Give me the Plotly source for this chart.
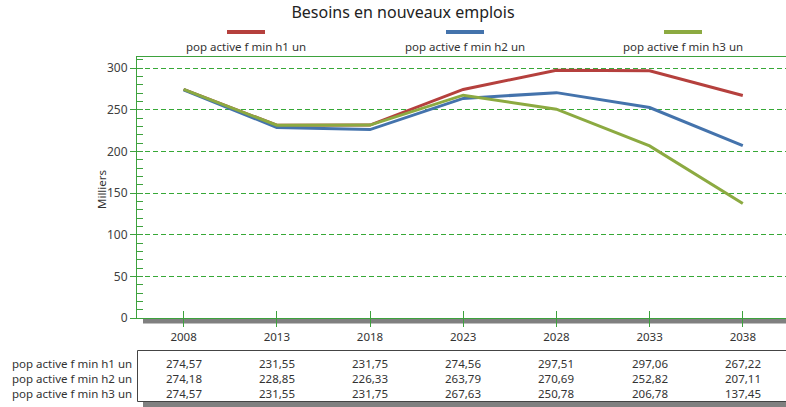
import plotly.graph_objects as go

years = ["2008", "2013", "2018", "2023", "2028", "2033", "2038"]
series_names = ["pop active f min h1 un", "pop active f min h2 un", "pop active f min h3 un"]
h1 = [274.57, 231.55, 231.75, 274.56, 297.51, 297.06, 267.22]
h2 = [274.18, 228.85, 226.33, 263.79, 270.69, 252.82, 207.11]
h3 = [274.57, 231.55, 231.75, 267.63, 250.78, 206.78, 137.45]
colors = ["#B5403D", "#4473AC", "#8CAA41"]
title = "Besoins en nouveaux emplois"
y_title = "Milliers"

W, H = 786, 407
L, T, B = 137, 57, 89
PW = W - L
PH = H - T - B
FONT = "Noto Sans"
GREEN = "#3DA23D"
TXT = "#333333"

def px_y(py):
    return (H - B - py) / PH

def px_x(px):
    return (px - L) / PW

xs = list(range(len(years)))
fig = go.Figure()
for name, vals, c in zip(series_names, [h1, h2, h3], colors):
    fig.add_trace(go.Scatter(x=xs, y=vals, name=name, mode="lines",
                             line=dict(color=c, width=3), showlegend=False))

band = 93.2
xmax = -0.5 + PW / band

fig.update_layout(
    width=W, height=H,
    margin=dict(l=L, r=0, t=T, b=B),
    paper_bgcolor="white", plot_bgcolor="white",
    font=dict(family=FONT, size=12, color=TXT),
    title=dict(text=title, x=403 / W, xref="container", xanchor="center",
               y=1 - 12 / H, yref="container", yanchor="middle",
               font=dict(family=FONT, size=16, color="#222222")),
    xaxis=dict(range=[-0.5, xmax], tickmode="array", tickvals=xs, ticktext=years,
               showline=True, linecolor=GREEN, linewidth=1, mirror=True,
               ticks="outside", ticklen=8, tickcolor=GREEN, tickwidth=1,
               showgrid=False, zeroline=False,
               tickfont=dict(size=11.5, color=TXT)),
    xaxis2=dict(range=[-0.5, xmax], overlaying="x", anchor="y", side="bottom",
                tickmode="array", tickvals=xs, ticks="inside", ticklen=7,
                tickcolor=GREEN, showticklabels=False, showline=False,
                showgrid=False, zeroline=False),
    yaxis=dict(range=[0, 313.5], tickmode="array", tickvals=[0, 50, 100, 150, 200, 250, 300],
               showline=True, linecolor=GREEN, linewidth=1,
               ticks="outside", ticklen=6, tickcolor=GREEN,
               showgrid=True, gridcolor="#37A837", griddash="5px,3px", gridwidth=1,
               zeroline=False, tickfont=dict(size=12, color="#404040"),
               minor=dict(dtick=10, tick0=0, ticks="inside", ticklen=6,
                          tickcolor=GREEN, showgrid=False)),
)

# invisible trace so the secondary x axis is drawn
fig.add_trace(go.Scatter(x=[0], y=[0], xaxis="x2", mode="markers",
                         marker=dict(opacity=0), showlegend=False, hoverinfo="skip"))

shapes = []
# shadow under x axis
shapes.append(dict(type="rect", xref="paper", yref="paper",
                   x0=px_x(143), x1=1.02, y0=px_y(323.5), y1=px_y(319),
                   fillcolor="#808080", line=dict(width=0), layer="below"))
# table box
shapes.append(dict(type="rect", xref="paper", yref="paper",
                   x0=px_x(137.5), x1=1.02, y0=px_y(401.5), y1=px_y(350.5),
                   fillcolor="rgba(0,0,0,0)", line=dict(color="#444444", width=1)))
# table shadow
shapes.append(dict(type="rect", xref="paper", yref="paper",
                   x0=px_x(143), x1=1.02, y0=px_y(408), y1=px_y(402),
                   fillcolor="#808080", line=dict(width=0)))

annotations = []
# legend
leg_centers = [246, 465, 683]
for name, c, cx in zip(series_names, colors, leg_centers):
    shapes.append(dict(type="line", xref="paper", yref="paper",
                       x0=px_x(cx - 19), x1=px_x(cx + 19), y0=px_y(32), y1=px_y(32),
                       line=dict(color=c, width=4)))
    annotations.append(dict(text=name, xref="paper", yref="paper", x=px_x(cx), y=px_y(47),
                            xanchor="center", yanchor="middle", showarrow=False,
                            font=dict(size=11.5, color=TXT)))

# y-axis title
annotations.append(dict(text=y_title, xref="paper", yref="paper", x=px_x(101), y=px_y(190),
                        textangle=-90, xanchor="center", yanchor="middle", showarrow=False,
                        font=dict(size=11.5, color=TXT)))

# data table
row_y = [363, 378, 393]
for name, vals, ry in zip(series_names, [h1, h2, h3], row_y):
    annotations.append(dict(text=name, xref="paper", yref="paper", x=px_x(133), y=px_y(ry),
                            xanchor="right", yanchor="middle", showarrow=False,
                            font=dict(size=11.5, color=TXT), borderpad=0))
    for xi, v in zip(xs, vals):
        annotations.append(dict(text=f"{v:.2f}".replace(".", ","), xref="x", yref="paper",
                                x=xi, y=px_y(ry), xanchor="center", yanchor="middle",
                                showarrow=False, font=dict(size=11.5, color=TXT), borderpad=0))

fig.update_layout(shapes=shapes, annotations=annotations)
fig.write_html("out.html", config={"displayModeBar": False},
               post_script="document.body.style.margin='0';")
